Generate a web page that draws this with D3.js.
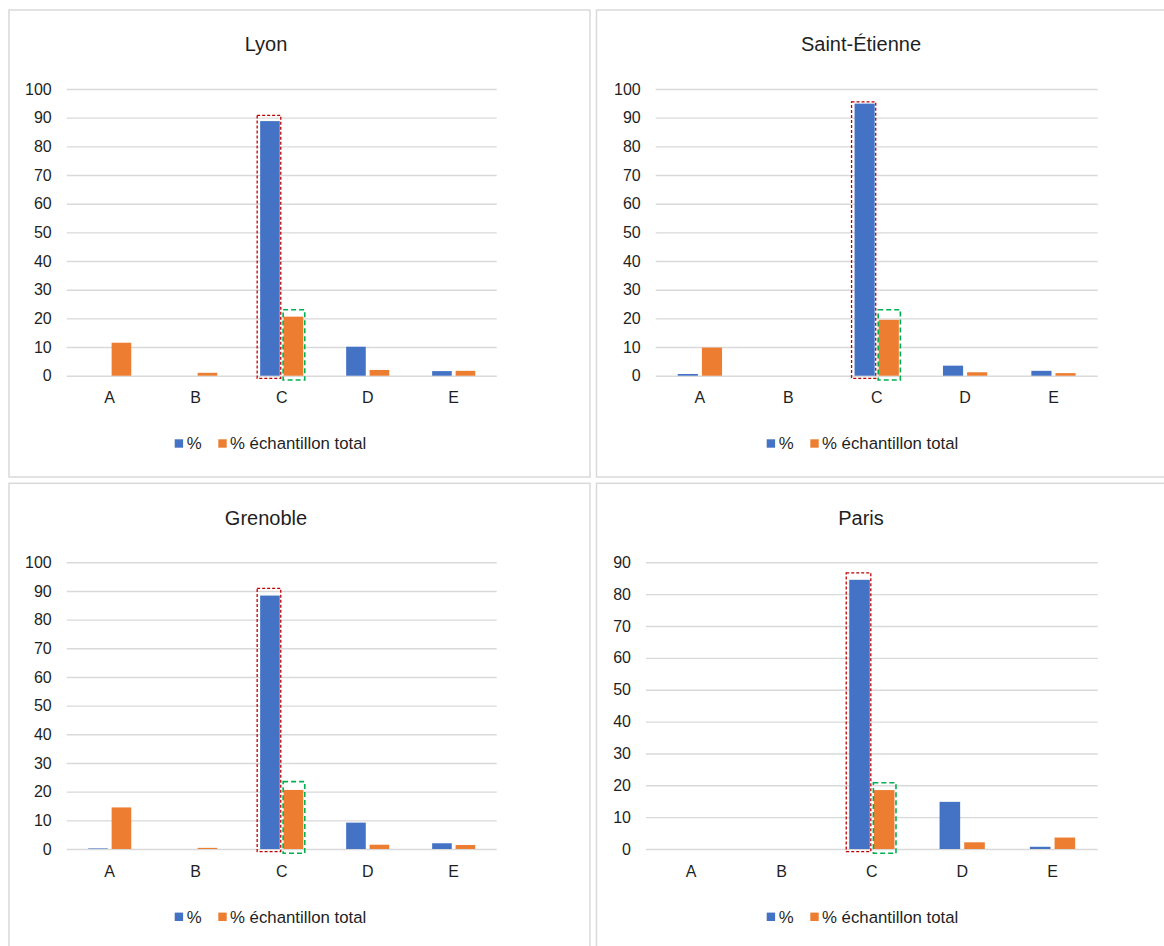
<!DOCTYPE html>
<html>
<head>
<meta charset="utf-8">
<script src="https://cdn.jsdelivr.net/npm/d3@7/dist/d3.min.js"></script>
<style>
  html, body { margin: 0; padding: 0; background: #fff; }
  svg { display: block; font-family: "Liberation Sans", Arial, sans-serif; }
</style>
</head>
<body>
<svg id="chart" width="1164" height="946"></svg>
<script>
// ---------- DATA ----------
const categories = ["A", "B", "C", "D", "E"];
const cities = ["Lyon", "Saint-Étienne", "Grenoble", "Paris"];
const seriesNames = ["%", "% échantillon total"];

const pctLyon       = [0,   0,   88.8, 10.1, 1.6];
const totalLyon     = [11.5, 1.0, 20.6, 2.0,  1.7];
const pctStEtienne  = [0.6, 0,   94.9, 3.5,  1.7];
const totalStEtienne= [9.8, 0,   19.5, 1.2,  0.9];
const pctGrenoble   = [0.2, 0,   88.4, 9.2,  2.0];
const totalGrenoble = [14.5, 0.4, 20.6, 1.5, 1.4];
const pctParis      = [0,   0,   84.5, 14.8, 0.7];
const totalParis    = [0,   0,   18.5, 2.1,  3.6];

const yMaxByCity  = [100, 100, 100, 90];
const yStepByCity = [10, 10, 10, 10];

// highlight annotations (value units): top of red box (around "%" bar C), top of green box (around total bar C)
const redBoxTop   = [90.8, 95.5, 90.9, 86.7];
const greenBoxTop = [23.0, 23.0, 23.5, 20.8];
const highlightCategory = "C";

// ---------- LAYOUT ----------
const colors = { pct: "#4472C4", total: "#ED7D31", grid: "#d9d9d9", border: "#d9d9d9", text: "#1f1f1f", red: "#C00000", green: "#00B050" };

const panels = [
  { box: [9, 10, 581, 467],  plot: { l: 66.7,  r: 496.7,  t: 89,    b: 375.7 }, titleX: 266,  titleY: 51,  legX: 174.7, legY: 439.3 },
  { box: [596.5, 10, 580, 467], plot: { l: 655.7, r: 1097.7, t: 89,    b: 375.7 }, titleX: 861,  titleY: 51,  legX: 766.7, legY: 439.3 },
  { box: [9, 483.3, 581, 480], plot: { l: 66.7,  r: 496.7,  t: 562.3, b: 849 },   titleX: 266,  titleY: 525, legX: 174.7, legY: 912.6 },
  { box: [596.5, 483.3, 580, 480], plot: { l: 646, r: 1097.7, t: 562.3, b: 849 }, titleX: 861,  titleY: 525, legX: 766.7, legY: 912.6 }
];

const pctData = [pctLyon, pctStEtienne, pctGrenoble, pctParis];
const totalData = [totalLyon, totalStEtienne, totalGrenoble, totalParis];

const svg = d3.select("#chart");

panels.forEach((p, i) => {
  const g = svg.append("g");
  // panel border
  g.append("rect")
    .attr("x", p.box[0]).attr("y", p.box[1])
    .attr("width", p.box[2]).attr("height", p.box[3])
    .attr("fill", "#fff").attr("stroke", colors.border).attr("stroke-width", 1.5);

  const x = d3.scaleBand().domain(categories).range([p.plot.l, p.plot.r]).padding(0);
  const y = d3.scaleLinear().domain([0, yMaxByCity[i]]).range([p.plot.b, p.plot.t]);
  const step = x.step();
  const bw = step * 0.228;
  const gap = step * 0.045;

  // y axis with gridlines
  const yAxis = d3.axisLeft(y)
    .tickValues(d3.range(0, yMaxByCity[i] + 0.001, yStepByCity[i]))
    .tickSize(-(p.plot.r - p.plot.l))
    .tickPadding(15)
    .tickFormat(d3.format("d"));
  const ya = g.append("g").attr("transform", `translate(${p.plot.l},0)`).call(yAxis);
  ya.select(".domain").remove();
  ya.selectAll(".tick line").attr("stroke", colors.grid).attr("stroke-width", 1.4);
  ya.selectAll(".tick text").attr("fill", colors.text).attr("font-size", 16)
    .attr("font-family", "Liberation Sans, Arial, sans-serif");

  // x axis labels
  const xa = g.append("g").attr("transform", `translate(0,${p.plot.b})`)
    .call(d3.axisBottom(x).tickSize(0));
  xa.select(".domain").remove();
  xa.selectAll(".tick text").attr("dy", null).attr("y", 27.6)
    .attr("fill", colors.text).attr("font-size", 16)
    .attr("font-family", "Liberation Sans, Arial, sans-serif");

  // bars
  const center = c => x(c) + step / 2;
  const rows = categories.map((c, k) => ({ c, pct: pctData[i][k], total: totalData[i][k] }));
  g.append("g").selectAll("rect").data(rows).join("rect")
    .attr("x", d => center(d.c) - gap / 2 - bw)
    .attr("y", d => y(d.pct))
    .attr("width", bw)
    .attr("height", d => y(0) - y(d.pct))
    .attr("fill", colors.pct);
  g.append("g").selectAll("rect").data(rows).join("rect")
    .attr("x", d => center(d.c) + gap / 2)
    .attr("y", d => y(d.total))
    .attr("width", bw)
    .attr("height", d => y(0) - y(d.total))
    .attr("fill", colors.total);

  // highlight boxes
  const hc = center(highlightCategory);
  const bx = hc - gap / 2 - bw;
  g.append("rect")
    .attr("x", bx - 3).attr("y", y(redBoxTop[i]))
    .attr("width", bw + 4).attr("height", y(0) + 2.6 - y(redBoxTop[i]))
    .attr("fill", "none").attr("stroke", colors.red).attr("stroke-width", 1.3)
    .attr("stroke-dasharray", "3,2");
  const ox = hc + gap / 2;
  g.append("rect")
    .attr("x", ox - 0.5).attr("y", y(greenBoxTop[i]))
    .attr("width", bw + 2).attr("height", y(0) + 4.3 - y(greenBoxTop[i]))
    .attr("fill", "none").attr("stroke", colors.green).attr("stroke-width", 1.6)
    .attr("stroke-dasharray", "5,3");

  // title
  g.append("text").attr("x", p.titleX).attr("y", p.titleY)
    .attr("text-anchor", "middle").attr("font-size", 20).attr("fill", colors.text)
    .text(cities[i]);

  // legend
  const leg = g.append("g");
  const sq = 8.4;
  leg.append("rect").attr("x", p.legX).attr("y", p.legY).attr("width", sq).attr("height", sq).attr("fill", colors.pct);
  leg.append("text").attr("x", p.legX + 12).attr("y", p.legY + 10).attr("font-size", 16.8).attr("fill", colors.text).text(seriesNames[0]);
  leg.append("rect").attr("x", p.legX + 43.6).attr("y", p.legY).attr("width", sq).attr("height", sq).attr("fill", colors.total);
  leg.append("text").attr("x", p.legX + 55.3).attr("y", p.legY + 10).attr("font-size", 16.8).attr("fill", colors.text).text(seriesNames[1]);
});
</script>
</body>
</html>
